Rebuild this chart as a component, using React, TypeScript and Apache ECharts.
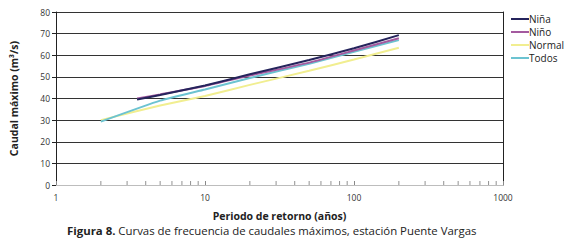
import React, { useEffect, useRef } from "react";
import * as echarts from "echarts";

const seriesNames = ["Niña", "Niño", "Normal", "Todos"];
const ninaT = [3.5, 5, 10, 20, 50, 100, 200];
const ninaQ = [39.5, 41.6, 46, 51.2, 57.8, 63.2, 69.3];
const ninoT = [3.5, 5, 10, 20, 50, 100, 200];
const ninoQ = [40, 41.9, 45.8, 50.6, 56.6, 62.2, 67.9];
const normalT = [2, 5, 10, 20, 50, 100, 200];
const normalQ = [30, 36.8, 41.2, 46.3, 52.8, 58, 63.5];
const todosT = [2, 5, 10, 20, 50, 100, 200];
const todosQ = [29.3, 39, 44.2, 49.5, 56.1, 61.6, 67];
const minorTicks = [2, 3, 4, 5, 6, 7, 8, 9, 20, 30, 40, 50, 60, 70, 80, 90, 200, 300, 400, 500, 600, 700, 800, 900];
const xTitle = "Periodo de retorno (años)";
const yTitle = "Caudal máximo (m³/s)";
const captionBold = "Figura 8.";
const captionText = " Curvas de frecuencia de caudales máximos, estación Puente Vargas";

const colors = {
  "Niña": "#25245c",
  "Niño": "#a45a9f",
  "Normal": "#f1ee90",
  "Todos": "#6cc3d1",
};

const zip = (t: number[], q: number[]) => t.map((v, i) => [v, q[i]]);

export default function App() {
  const ref = useRef<HTMLDivElement>(null);
  useEffect(() => {
    if (!ref.current) return;
    const chart = echarts.init(ref.current, undefined, { renderer: "svg" });
    const font = "Open Sans";
    const mk = (name: string, t: number[], q: number[], z: number) => ({
      name,
      type: "line",
      data: zip(t, q),
      showSymbol: false,
      symbol: "none",
      smooth: 0.15,
      lineStyle: { color: colors[name as keyof typeof colors], width: 2 },
      itemStyle: { color: colors[name as keyof typeof colors] },
      z,
    });
    chart.setOption({
      animation: false,
      textStyle: { fontFamily: font },
      grid: { left: 53, right: 63, top: 12, bottom: 59, containLabel: false },
      legend: {
        data: seriesNames,
        orient: "vertical",
        left: 506,
        top: 9,
        itemWidth: 18,
        itemHeight: 2,
        itemGap: 3,
        icon: "rect",
        textStyle: { fontSize: 10, color: "#222", fontFamily: font, padding: [0, 0, 0, -5] },
      },
      xAxis: {
        type: "log",
        logBase: 10,
        min: 1,
        max: 1000,
        name: xTitle,
        nameLocation: "middle",
        nameGap: 25,
        nameTextStyle: { fontSize: 10.5, fontWeight: "bold", color: "#222", fontFamily: font },
        axisLine: { lineStyle: { color: "#bdbdbd", width: 1 } },
        axisTick: { show: true, inside: true, length: 4, lineStyle: { color: "#888" } },
        axisLabel: { fontSize: 8.5, color: "#333", margin: 8, formatter: (v: number) => String(v) },
        splitLine: { show: false },
      },
      yAxis: [
        {
          type: "value",
          min: 0,
          max: 80,
          interval: 10,
          name: yTitle,
          nameLocation: "middle",
          nameGap: 37,
          nameTextStyle: { fontSize: 10.5, fontWeight: "bold", color: "#222", fontFamily: font },
          axisLine: { show: true, lineStyle: { color: "#222", width: 1 } },
          axisTick: { show: true, length: 4, lineStyle: { color: "#222" } },
          axisLabel: { fontSize: 8.5, color: "#333", margin: 6 },
          splitLine: { show: true, lineStyle: { color: "#333", width: 1 } },
        },
        {
          type: "value",
          min: 0,
          max: 80,
          interval: 10,
          position: "right",
          axisLine: { show: true, lineStyle: { color: "#222", width: 1 } },
          axisTick: { show: false },
          axisLabel: { show: false },
          splitLine: { show: false },
        },
      ],
      series: [
        {
          name: "ticks",
          type: "scatter",
          data: minorTicks.map((v) => [v, 0]),
          symbol: "rect",
          symbolSize: [1, 4],
          symbolOffset: [0, -2],
          itemStyle: { color: "#777" },
          silent: true,
          z: 1,
        },
        mk("Normal", normalT, normalQ, 2),
        mk("Todos", todosT, todosQ, 3),
        mk("Niño", ninoT, ninoQ, 4),
        mk("Niña", ninaT, ninaQ, 5),
      ],
      graphic: [
        {
          type: "text",
          left: 67,
          top: 225,
          style: {
            text: "{b|" + captionBold + "}" + captionText,
            fontFamily: font,
            fontSize: 11.4,
            fill: "#222",
            rich: {
              b: { fontWeight: "bold", fontSize: 11.4, fontFamily: font, fill: "#222" },
            },
          },
        },
      ],
    });
    return () => chart.dispose();
  }, []);
  return <div ref={ref} style={{ width: 566, height: 244, position: "absolute", left: 0, top: 0 }} />;
}
